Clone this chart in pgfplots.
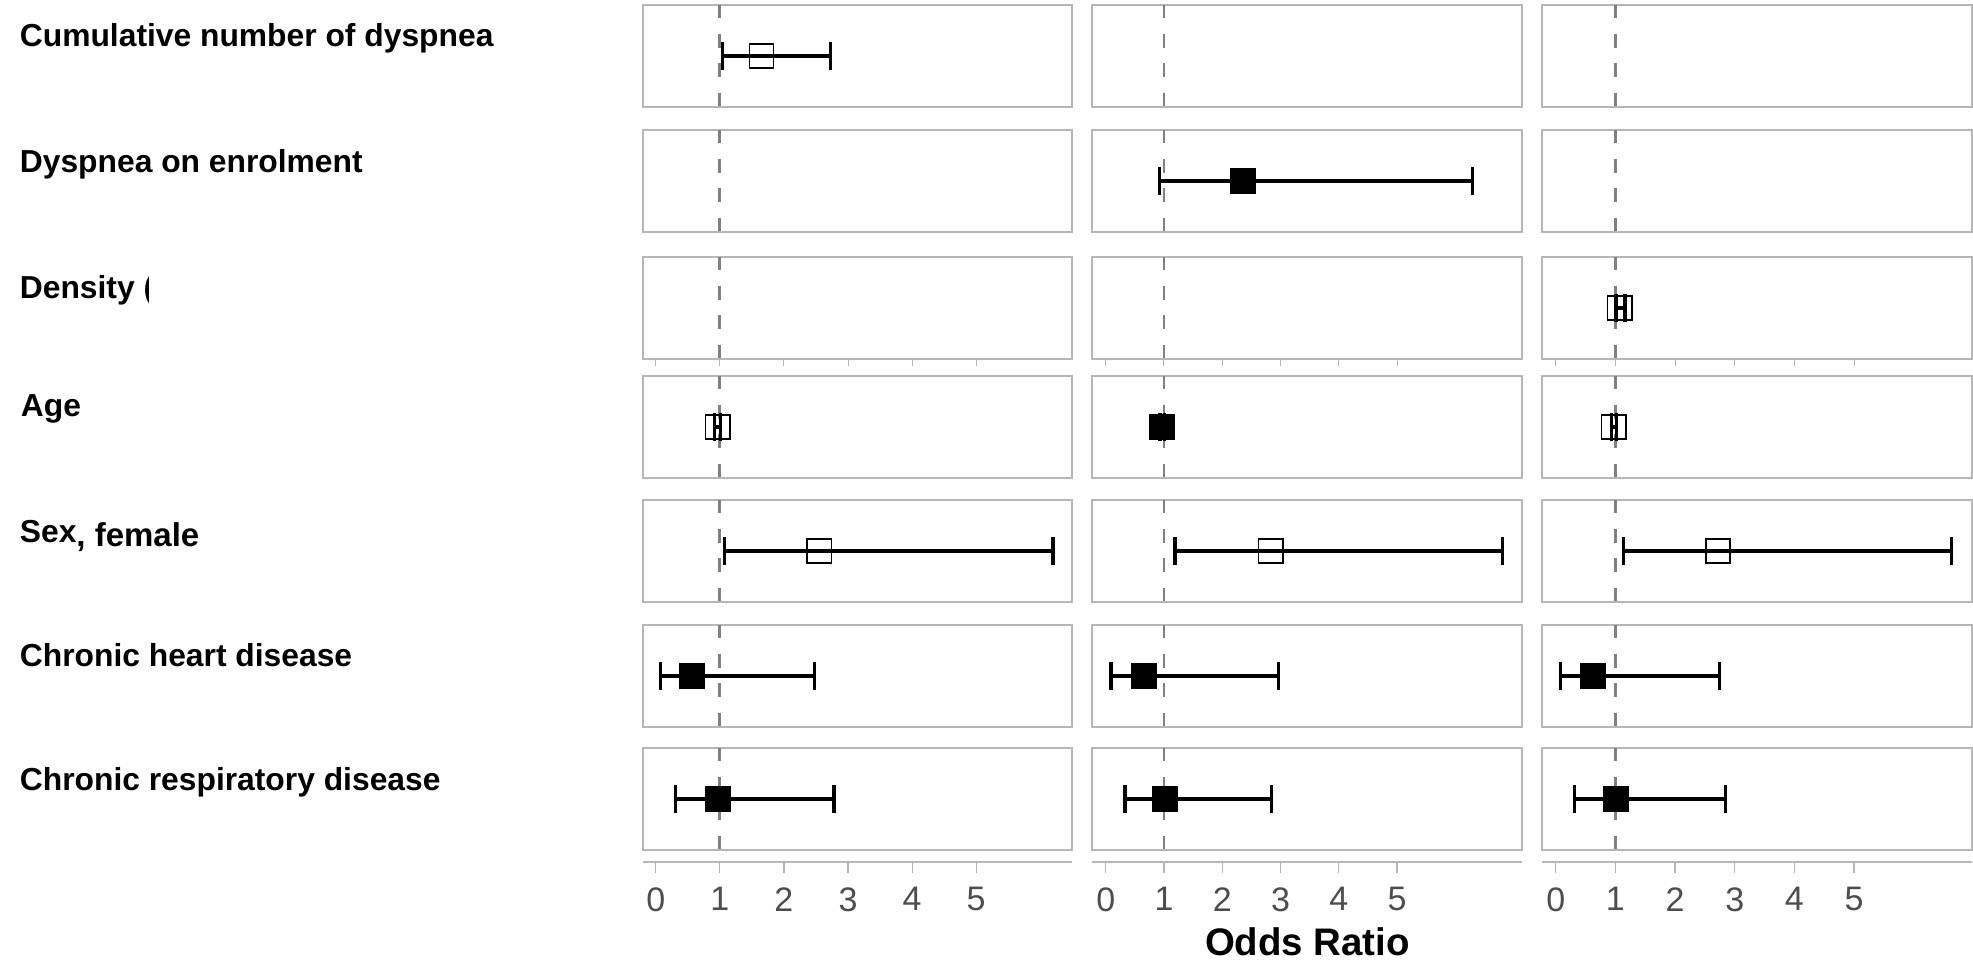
\documentclass[border=0pt]{standalone}
\usepackage{pgfplots}
\pgfplotsset{compat=1.18}
\usepackage{fontspec}
\setmainfont{Liberation Sans}
\definecolor{panelgray}{RGB}{182,182,182}
\definecolor{refgray}{RGB}{128,128,128}
\definecolor{labelgray}{RGB}{77,77,77}
\newcommand{\lblfont}{\fontsize{15.9pt}{18pt}\selectfont\bfseries}
\pgfplotsset{
  panel/.style={scale only axis, height=51pt, ymin=-1, ymax=1, xtick=\empty, ytick=\empty,
    axis line style={panelgray, line width=1pt}, anchor=south west, clip=false},
  c1/.style={width=214.5pt, xmin=-0.206, xmax=6.487},
  c2/.style={width=215pt, xmin=-0.235, xmax=7.146},
  c3/.style={width=214.75pt, xmin=-0.23, xmax=6.97},
  r3/.style={xtick={0,1,2,3,4,5}, xticklabel={\relax}, tick align=outside, xtick pos=left,
    major tick length=3.75pt, tick style={panelgray, line width=0.5pt}},
  refline/.style={draw=refgray, line width=1.4pt, dash pattern=on 6.7pt off 7.9pt},
  ci/.style={black, line width=1.65pt, mark=|, mark size=7pt, mark options={solid}},
  opensq/.style={only marks, mark=square, mark size=6.1pt, mark options={black, line width=0.75pt}},
  fillsq/.style={only marks, mark=square*, mark size=6.25pt, mark options={draw=black, fill=black, line width=0.5pt}},
  bot/.style={scale only axis, height=10pt, ymin=0, ymax=1, hide y axis, axis x line*=bottom,
    x axis line style={panelgray, line width=1pt, -}, xtick={0,1,2,3,4,5}, tick align=outside,
    major tick length=5.5pt, tick style={panelgray, line width=0.6pt},
    xticklabel={\pgfmathprintnumber[assume math mode=true]{\tick}},
    xticklabel style={font=\fontsize{17pt}{20pt}\selectfont, text=labelgray, inner sep=0pt, anchor=north, yshift=-7pt},
    anchor=south west},
}
\begin{document}
\begin{tikzpicture}
\path[use as bounding box] (0,0) rectangle (986.5pt,482pt);

% ---------- Column 1 ----------
\begin{axis}[panel, c1, at={(321.25pt,428.5pt)}]
\addplot[refline] coordinates {(1,1) (1,-1)};
\addplot[ci] coordinates {(1.04,0) (2.73,0)};
\addplot[opensq] coordinates {(1.65,0)};
\end{axis}
\begin{axis}[panel, c1, at={(321.25pt,366pt)}]
\addplot[refline] coordinates {(1,1) (1,-1)};
\end{axis}
\begin{axis}[panel, c1, r3, at={(321.25pt,302.5pt)}]
\addplot[refline] coordinates {(1,1) (1,-1)};
\end{axis}
\begin{axis}[panel, c1, at={(321.25pt,243pt)}]
\addplot[refline] coordinates {(1,1) (1,-1)};
\addplot[ci] coordinates {(0.92,0) (1.01,0)};
\addplot[opensq] coordinates {(0.97,0)};
\end{axis}
\begin{axis}[panel, c1, at={(321.25pt,181pt)}]
\addplot[refline] coordinates {(1,1) (1,-1)};
\addplot[ci] coordinates {(1.07,0) (6.20,0)};
\addplot[opensq] coordinates {(2.55,0)};
\end{axis}
\begin{axis}[panel, c1, at={(321.25pt,118.5pt)}]
\addplot[refline] coordinates {(1,1) (1,-1)};
\addplot[ci] coordinates {(0.07,0) (2.48,0)};
\addplot[fillsq] coordinates {(0.57,0)};
\end{axis}
\begin{axis}[panel, c1, at={(321.25pt,57pt)}]
\addplot[refline] coordinates {(1,1) (1,-1)};
\addplot[ci] coordinates {(0.31,0) (2.78,0)};
\addplot[fillsq] coordinates {(0.97,0)};
\end{axis}
\begin{axis}[bot, c1, at={(321.25pt,51pt)}]
\end{axis}

% ---------- Column 2 ----------
\begin{axis}[panel, c2, at={(546pt,428.5pt)}]
\addplot[refline] coordinates {(1,1) (1,-1)};
\end{axis}
\begin{axis}[panel, c2, at={(546pt,366pt)}]
\addplot[refline] coordinates {(1,1) (1,-1)};
\addplot[ci] coordinates {(0.92,0) (6.29,0)};
\addplot[fillsq] coordinates {(2.36,0)};
\end{axis}
\begin{axis}[panel, c2, r3, at={(546pt,302.5pt)}]
\addplot[refline] coordinates {(1,1) (1,-1)};
\end{axis}
\begin{axis}[panel, c2, at={(546pt,243pt)}]
\addplot[refline] coordinates {(1,1) (1,-1)};
\addplot[ci] coordinates {(0.93,0) (1.01,0)};
\addplot[fillsq] coordinates {(0.97,0)};
\end{axis}
\begin{axis}[panel, c2, at={(546pt,181pt)}]
\addplot[refline] coordinates {(1,1) (1,-1)};
\addplot[ci] coordinates {(1.19,0) (6.81,0)};
\addplot[opensq] coordinates {(2.83,0)};
\end{axis}
\begin{axis}[panel, c2, at={(546pt,118.5pt)}]
\addplot[refline] coordinates {(1,1) (1,-1)};
\addplot[ci] coordinates {(0.09,0) (2.96,0)};
\addplot[fillsq] coordinates {(0.66,0)};
\end{axis}
\begin{axis}[panel, c2, at={(546pt,57pt)}]
\addplot[refline] coordinates {(1,1) (1,-1)};
\addplot[ci] coordinates {(0.33,0) (2.85,0)};
\addplot[fillsq] coordinates {(1.01,0)};
\end{axis}
\begin{axis}[bot, c2, at={(546pt,51pt)}]
\end{axis}

% ---------- Column 3 ----------
\begin{axis}[panel, c3, at={(771pt,428.5pt)}]
\addplot[refline] coordinates {(1,1) (1,-1)};
\end{axis}
\begin{axis}[panel, c3, at={(771pt,366pt)}]
\addplot[refline] coordinates {(1,1) (1,-1)};
\end{axis}
\begin{axis}[panel, c3, r3, at={(771pt,302.5pt)}]
\addplot[refline] coordinates {(1,1) (1,-1)};
\addplot[ci] coordinates {(1.01,0) (1.16,0)};
\addplot[opensq] coordinates {(1.07,0)};
\end{axis}
\begin{axis}[panel, c3, at={(771pt,243pt)}]
\addplot[refline] coordinates {(1,1) (1,-1)};
\addplot[ci] coordinates {(0.93,0) (1.02,0)};
\addplot[opensq] coordinates {(0.97,0)};
\end{axis}
\begin{axis}[panel, c3, at={(771pt,181pt)}]
\addplot[refline] coordinates {(1,1) (1,-1)};
\addplot[ci] coordinates {(1.13,0) (6.64,0)};
\addplot[opensq] coordinates {(2.72,0)};
\end{axis}
\begin{axis}[panel, c3, at={(771pt,118.5pt)}]
\addplot[refline] coordinates {(1,1) (1,-1)};
\addplot[ci] coordinates {(0.08,0) (2.75,0)};
\addplot[fillsq] coordinates {(0.62,0)};
\end{axis}
\begin{axis}[panel, c3, at={(771pt,57pt)}]
\addplot[refline] coordinates {(1,1) (1,-1)};
\addplot[ci] coordinates {(0.32,0) (2.84,0)};
\addplot[fillsq] coordinates {(1.01,0)};
\end{axis}
\begin{axis}[bot, c3, at={(771pt,51pt)}]
\end{axis}

% ---------- Row labels ----------
\node[anchor=base west, inner sep=0pt, font=\lblfont] at (9.75pt,458.65pt) {Cumulative number of dyspnea};
\node[anchor=base west, inner sep=0pt, font=\lblfont] at (9.75pt,395.65pt) {Dyspnea on enrolment};
\begin{scope}
\clip (0,300pt) rectangle (74pt,360pt);
\node[anchor=base west, inner sep=0pt, font=\lblfont] at (9.75pt,332.75pt) {Density (};
\end{scope}
\node[anchor=base west, inner sep=0pt, font=\lblfont] at (10.25pt,273.65pt) {Age};
\node[anchor=base west, inner sep=0pt, font=\lblfont] at (9.75pt,210.5pt) {Sex\raisebox{-1.85pt}{\fontsize{16.5pt}{18pt}\selectfont, female}};
\node[anchor=base west, inner sep=0pt, font=\lblfont] at (9.75pt,148.75pt) {Chronic heart disease};
\node[anchor=base west, inner sep=0pt, font=\lblfont] at (9.75pt,86.75pt) {Chronic respiratory disease};

\node[anchor=base, inner sep=0pt, font=\fontsize{19.2pt}{22pt}\selectfont\bfseries] at (653.75pt,4.5pt) {Odds Ratio};
\end{tikzpicture}
\end{document}
